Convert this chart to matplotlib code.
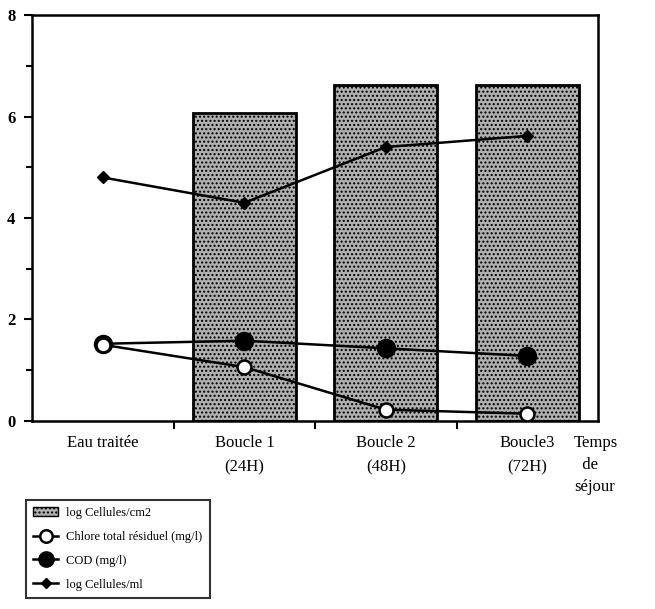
import matplotlib.pyplot as plt
from matplotlib.lines import Line2D
from matplotlib.patches import Patch

categories = ['Eau traitée', 'Boucle 1\n(24H)', 'Boucle 2\n(48H)', 'Boucle3\n(72H)']
log_cells_cm2 = [0, 6.08, 6.62, 6.62]
chlore = [1.5, 1.06, 0.22, 0.14]
cod = [1.52, 1.58, 1.43, 1.28]
log_cells_ml = [4.8, 4.3, 5.4, 5.62]

plt.rcParams['font.family'] = ['Liberation Serif', 'DejaVu Serif']

fig = plt.figure(figsize=(6.55, 6.09), dpi=100)
ax = fig.add_axes([0.049, 0.309, 0.864, 0.666])

x = list(range(len(categories)))
ax.bar(x[1:], log_cells_cm2[1:], width=0.73, color='#b0b0b0', edgecolor='black',
       linewidth=2, hatch='....', zorder=1)

ax.plot(x, log_cells_ml, color='black', lw=1.8, marker='D', ms=6, zorder=3)
ax.plot(x, cod, color='black', lw=1.8, marker='o', ms=13, zorder=3)
ax.plot(x, chlore, color='black', lw=1.8, marker='o', ms=10,
        markerfacecolor='white', markeredgewidth=1.8, zorder=4)

ax.set_xlim(-0.5, 3.5)
ax.set_ylim(0, 8)
ax.set_yticks([0, 2, 4, 6, 8])
ax.set_yticks([1, 3, 5, 7], minor=True)
ax.set_xticks([0.5, 1.5, 2.5])
ax.set_xticklabels([])
ax.tick_params(axis='y', direction='out', length=6, width=1.5, labelsize=12, pad=6)
ax.tick_params(axis='y', which='minor', direction='out', length=4, width=1.5)
ax.tick_params(axis='x', direction='out', length=6, width=1.5)
for lab in ax.get_yticklabels():
    lab.set_fontweight('bold')
for s in ax.spines.values():
    s.set_linewidth(1.8)

for i, c in enumerate(categories):
    ax.text(i, -0.28, c, ha='center', va='top', fontsize=12, linespacing=1.7)
ax.text(3.33, -0.28, 'Temps\n  de\nséjour', ha='left', va='top', fontsize=12,
        linespacing=1.5)

handles = [
    Patch(facecolor='#b0b0b0', edgecolor='black', hatch='....', label='log Cellules/cm2'),
    Line2D([], [], color='black', lw=1.8, marker='o', ms=9, markerfacecolor='white',
           markeredgewidth=1.8, label='Chlore total résiduel (mg/l)'),
    Line2D([], [], color='black', lw=1.8, marker='o', ms=11, label='COD (mg/l)'),
    Line2D([], [], color='black', lw=1.8, marker='D', ms=5, label='log Cellules/ml'),
]
leg = fig.legend(handles=handles, loc='upper left', bbox_to_anchor=(0.03, 0.19),
                 fontsize=9, frameon=True, fancybox=False, edgecolor='black',
                 handlelength=2.0, handletextpad=0.6, labelspacing=0.95, borderpad=0.6)
leg.get_frame().set_linewidth(1.5)

fig.savefig('out.png', dpi=100)
